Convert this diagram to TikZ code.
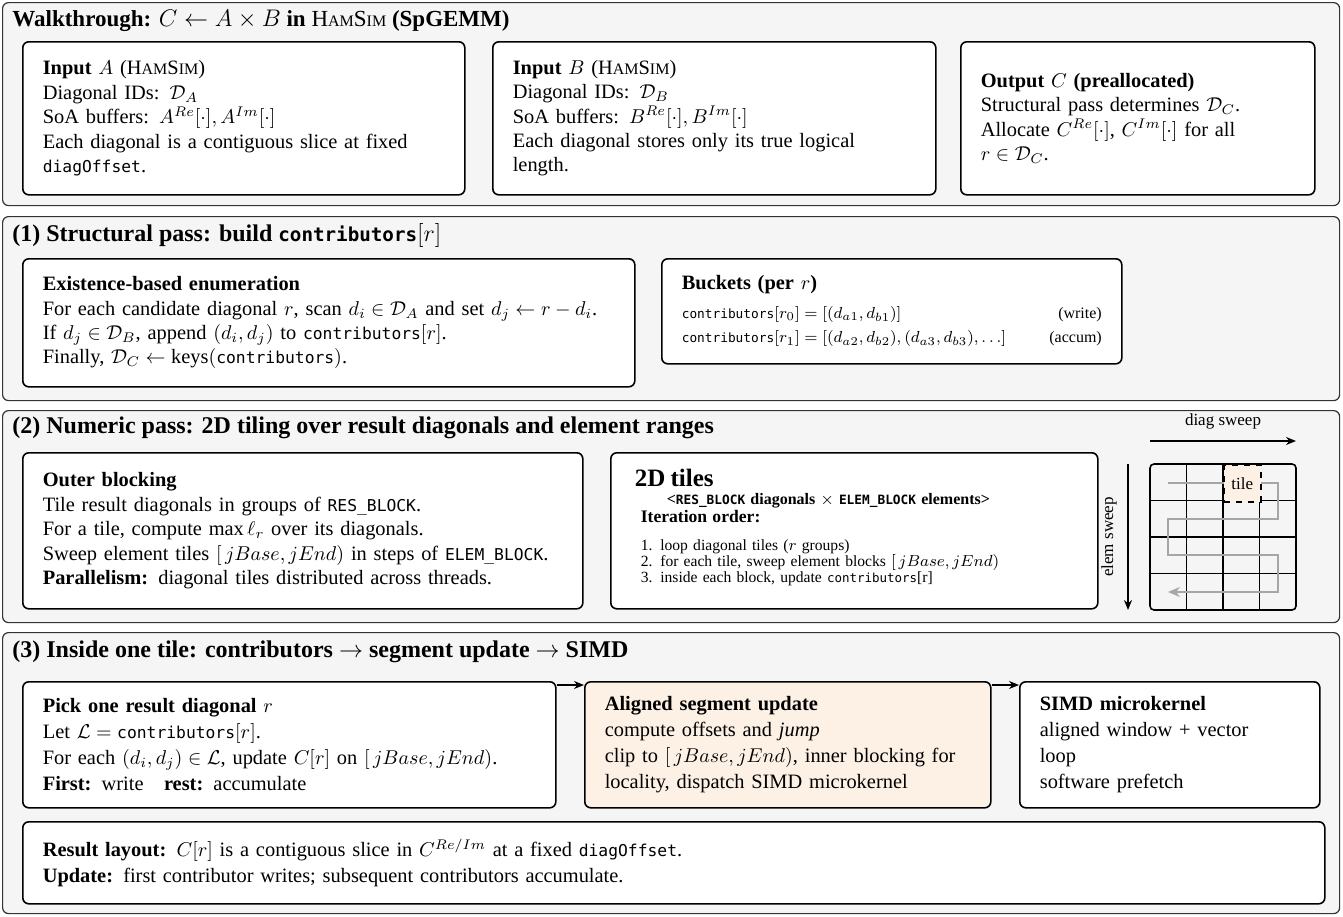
\documentclass[tikz,border=0pt]{standalone}
\usepackage{amsmath}
\usepackage{amssymb}
\usepackage{fontspec}
\setmainfont{Liberation Serif}
\setmonofont{DejaVu Sans Mono}[Scale=0.8]
\usetikzlibrary{arrows.meta,positioning}
\definecolor{panelgray}{HTML}{F5F5F5}
\definecolor{tileorange}{HTML}{FDF1E6}
\definecolor{edgegray}{HTML}{333333}
\newcommand{\hamsim}{H{\footnotesize AM}S{\footnotesize IM}}
\newcommand{\jrange}{\ensuremath{[\,jBase, jEnd)}}

\begin{document}
\begin{tikzpicture}[x=0.5pt,y=-0.5pt,
  panel/.style={draw=edgegray,line width=0.6pt,fill=panelgray,rounded corners=3pt,anchor=north west,inner sep=0pt,minimum width=668.5pt},
  ptitle/.style={anchor=west,inner sep=0pt,font=\fontsize{12}{14}\selectfont\bfseries},
  card/.style={draw=black,line width=0.8pt,fill=white,rounded corners=3pt,anchor=north west,align=left,inner xsep=10pt,inner ysep=0pt,font=\fontsize{10.2}{12.2}\selectfont},
  link/.style={-{Stealth[length=5pt,width=4pt]},line width=0.7pt}]
  \useasboundingbox (0,0) rectangle (1343,916);

  \node[panel,minimum height=101.5pt] (walk) at (2,2) {};
  \node[ptitle,font=\fontsize{11.5}{14}\selectfont\bfseries] (walkTitle) at (12,21) {Walkthrough: $C \leftarrow A \times B$ in {\mdseries\hamsim} (SpGEMM)};
  \node[card,text width=201pt,minimum height=76.5pt] (inA) at (22,41) {\textbf{Input} $A$ (\hamsim)\\Diagonal IDs: $\mathcal{D}_A$\\SoA buffers: $A^{Re}[\cdot], A^{Im}[\cdot]$\\Each diagonal is a contiguous slice at fixed\\\texttt{diagOffset}.};
  \node[card,text width=201.5pt,minimum height=76.5pt] (inB) at (492,41) {\textbf{Input} $B$ (\hamsim)\\Diagonal IDs: $\mathcal{D}_B$\\SoA buffers: $B^{Re}[\cdot], B^{Im}[\cdot]$\\Each diagonal stores only its true logical\\length.};
  \node[card,text width=157pt,minimum height=76.5pt] (outC) at (960,41) {\textbf{Output} $C$ \textbf{(preallocated)}\\Structural pass determines $\mathcal{D}_C$.\\Allocate $C^{Re}[\cdot]$, $C^{Im}[\cdot]$ for all\\$r \in \mathcal{D}_C$.};

  \node[panel,minimum height=92pt] (structural) at (2,216) {};
  \node[ptitle] (structuralTitle) at (12,235) {(1) Structural pass: build \texttt{contributors}$[r]$};
  \node[card,text width=286pt,minimum height=64pt] (exist) at (22,258) {\textbf{Existence-based enumeration}\\For each candidate diagonal $r$, scan $d_i \in \mathcal{D}_A$ and set $d_j \leftarrow r - d_i$.\\If $d_j \in \mathcal{D}_B$, append $(d_i, d_j)$ to \texttt{contributors}$[r]$.\\Finally, $\mathcal{D}_C \leftarrow \mathrm{keys}(\texttt{contributors})$.};
  \node[card,text width=210pt,minimum height=52.5pt] (buckets) at (661,258) {\textbf{Buckets (per $r$)}\\[2pt]
    {\footnotesize\texttt{contributors}$[r_0] = [(d_{a1}, d_{b1})]$\hfill(write)}\\
    {\footnotesize\texttt{contributors}$[r_1] = [(d_{a2}, d_{b2}), (d_{a3}, d_{b3}), \ldots]$\hfill(accum)}};

  \node[panel,minimum height=106pt] (numeric) at (2,410) {};
  \node[ptitle] (numericTitle) at (12,428) {(2) Numeric pass: 2D tiling over result diagonals and element ranges};
  \node[card,text width=260pt,minimum height=78pt] (outer) at (22,452) {\textbf{Outer blocking}\\Tile result diagonals in groups of \texttt{RES\_BLOCK}.\\For a tile, compute $\max \ell_r$ over its diagonals.\\Sweep element tiles \jrange{} in steps of \texttt{ELEM\_BLOCK}.\\\textbf{Parallelism:} diagonal tiles distributed across threads.};
  \node[card,text width=223.5pt,minimum height=78pt,font=\fontsize{7.8}{8}\selectfont] (tiles) at (610,452) {\hspace*{2pt}{\fontsize{12.5}{12}\selectfont\bfseries 2D tiles}\\[1pt]
    \hspace*{18pt}{\fontsize{8}{8}\selectfont\bfseries <\texttt{RES\_BLOCK} diagonals $\times$ \texttt{ELEM\_BLOCK} elements>}\\[1pt]
    \hspace*{5pt}{\fontsize{8.8}{9}\selectfont\bfseries Iteration order:}\\[6pt]
    \hspace*{5pt}1. loop diagonal tiles ($r$ groups)\\
    \hspace*{5pt}2. for each tile, sweep element blocks \jrange\\
    \hspace*{5pt}3. inside each block, update \texttt{contributors}[r]\\[-3pt]\mbox{}};
  \coordinate (diagL) at (1150,441);
  \coordinate (diagR) at (1296,441);
  \coordinate (elemT) at (1128,464);
  \coordinate (elemB) at (1128,610);
  \draw[link] (diagL) -- node[above=2pt,font=\fontsize{8.5}{9}\selectfont] (diagLabel) {diag sweep} (diagR);
  \draw[link] (elemT) -- node[left=2pt,rotate=90,anchor=south,font=\fontsize{8.5}{9}\selectfont] (elemLabel) {elem sweep} (elemB);
  \foreach \k in {1,2,3} {
    \draw[line width=0.6pt] (1150+36.5*\k,464) -- (1150+36.5*\k,610);
    \draw[line width=0.6pt] (1150,464+36.5*\k) -- (1296,464+36.5*\k);
  }
  \draw[gray!70,line width=0.7pt,-{Stealth[length=6pt,width=5pt]}] (1168,483) -- (1278,483) -- (1278,519) -- (1168,519) -- (1168,555) -- (1278,555) -- (1278,592) -- (1168,592);
  \node[draw,dashed,line width=1pt,fill=tileorange,minimum size=18.25pt,inner sep=0pt,anchor=north west,font=\fontsize{8.5}{9}\selectfont] (tile) at (1223,464) {tile};
  \draw[line width=0.8pt,rounded corners=2pt] (1150,464) rectangle (1296,610);

  \node[panel,minimum height=140.5pt] (inside) at (2,632) {};
  \node[ptitle] (insideTitle) at (12,652) {(3) Inside one tile: contributors $\rightarrow$ segment update $\rightarrow$ SIMD};
  \node[card,text width=246.5pt,minimum height=63pt,font=\fontsize{10.2}{13}\selectfont] (pick) at (22,681) {\textbf{Pick one result diagonal} $r$\\Let $\mathcal{L} = \texttt{contributors}[r]$.\\For each $(d_i, d_j) \in \mathcal{L}$, update $C[r]$ on \jrange.\\\textbf{First:} write\quad\textbf{rest:} accumulate};
  \node[card,fill=tileorange,text width=183pt,minimum height=63pt,font=\fontsize{10.2}{13}\selectfont] (aligned) at (584,681) {\textbf{Aligned segment update}\\compute offsets and \emph{jump}\\clip to \jrange, inner blocking for\\locality, dispatch SIMD microkernel};
  \node[card,text width=130pt,minimum height=63pt,font=\fontsize{10.2}{13}\selectfont] (simd) at (1019,681) {\textbf{SIMD microkernel}\\aligned window + vector\\loop\\software prefetch};
  \node[card,text width=631pt,minimum height=41pt,font=\fontsize{10.2}{13}\selectfont] (result) at (22,821) {\textbf{Result layout:} $C[r]$ is a contiguous slice in $C^{Re/Im}$ at a fixed \texttt{diagOffset}.\\\textbf{Update:} first contributor writes; subsequent contributors accumulate.};
  \draw[link] ([yshift=-2pt]pick.north east) -- ([yshift=-2pt]aligned.north west);
  \draw[link] ([yshift=-2pt]aligned.north east) -- ([yshift=-2pt]simd.north west);
\end{tikzpicture}
\end{document}
